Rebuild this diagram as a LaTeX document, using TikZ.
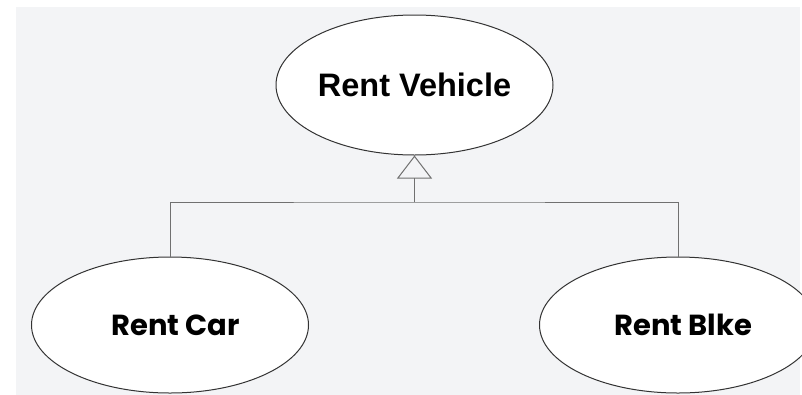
\documentclass[tikz,border=0pt]{standalone}
\usepackage{fontspec}
\setmainfont{Liberation Sans}
\newfontfamily\popfont{Poppins}
\usetikzlibrary{shapes.geometric,arrows.meta}
\definecolor{canvas}{HTML}{F3F4F6}
\definecolor{outline}{HTML}{333333}
\definecolor{wire}{HTML}{707070}
\tikzset{
  usecase/.style={ellipse, draw=outline, line width=1pt, fill=white,
    minimum width=277pt, minimum height=138pt, inner sep=0pt},
  generalize/.style={draw=wire, line width=1pt},
  opentri/.style={-{Triangle[open, length=23pt, width=35pt, line width=1pt]}}
}
\begin{document}
\begin{tikzpicture}[x=1pt, y=-1pt]
  \useasboundingbox (0,0) rectangle (802,394);
  \fill[white] (0,0) rectangle (802,394);
  \begin{scope}
    \clip (0,0) rectangle (802,394);
    \fill[canvas] (16,7) rectangle (800,400);
    % use cases
    \node[usecase, minimum height=140pt] (vehicle) at (414.5,85)
      {\fontsize{32.5}{38}\selectfont\bfseries Rent Vehicle};
    \node[usecase, minimum height=136pt] (car) at (170,325)
      {\hspace*{11pt}\popfont\fontsize{29}{34}\selectfont\bfseries Rent Car};
    \node[usecase, minimum height=136pt] (bike) at (678,325)
      {\hspace*{11pt}\popfont\fontsize{29}{34}\selectfont\bfseries Rent Blke};
    % generalization tree
    \coordinate (join) at (414.5,202);
    \draw[generalize] (car.north) |- (join) -| (bike.north);
    \draw[generalize, opentri] (join) -- (vehicle.south);
  \end{scope}
\end{tikzpicture}
\end{document}
